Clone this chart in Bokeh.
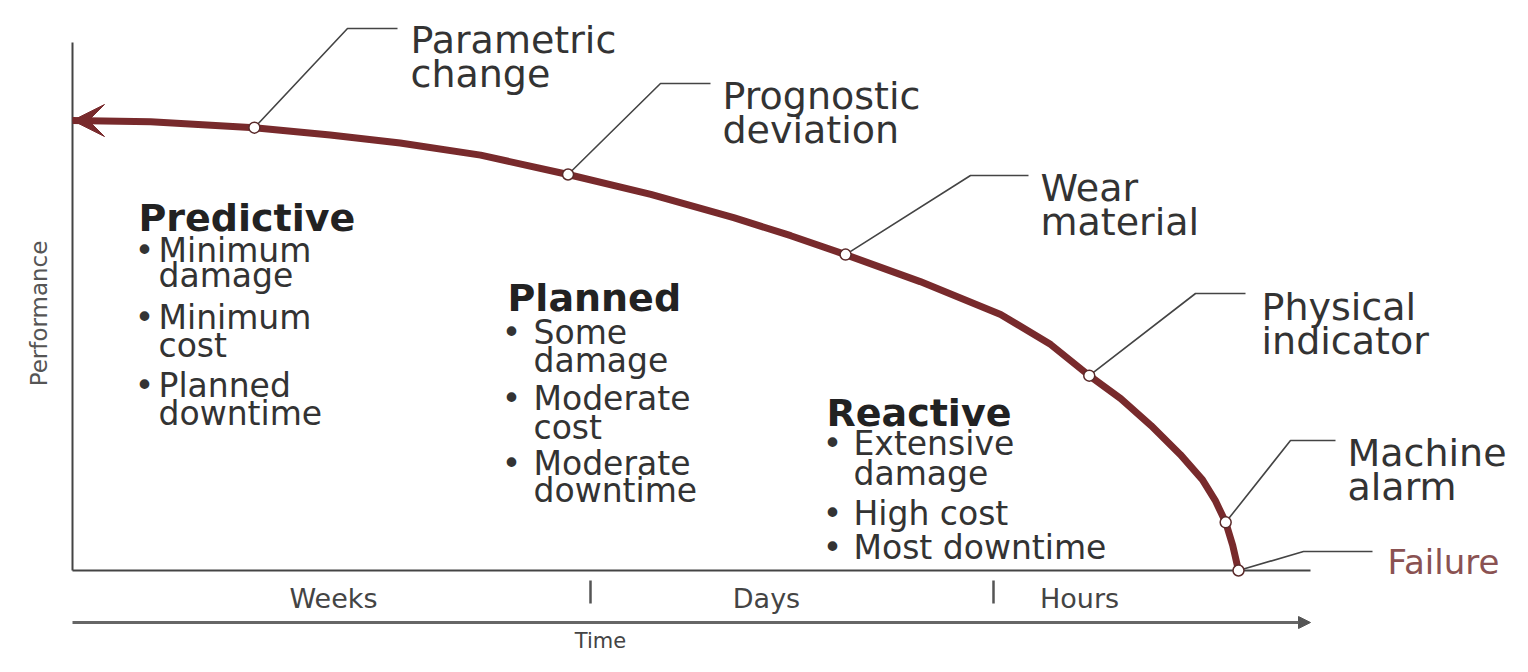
import math
from bokeh.plotting import figure
from bokeh.models import Range1d, Arrow, VeeHead, NormalHead
from bokeh.core.properties import value
from bokeh.embed import file_html
from bokeh.resources import INLINE

# ---------------- data ----------------
time_pts = [0, 6.7, 15.6, 22.1, 28.1, 35.0, 42.5, 49.6, 56.7, 61.6, 66.3, 72.7, 79.6,
            83.9, 87.2, 89.9, 92.5, 95.0, 96.9, 98.0, 98.9, 99.5, 100]
performance = [100, 99.7, 98.4, 96.8, 95.0, 92.3, 88.0, 83.6, 78.4, 74.4, 70.2, 64.2, 56.9,
               50.2, 43.3, 38.2, 32.2, 25.8, 20.2, 15.6, 10.7, 5.6, 0]

milestone_lines = [["Parametric", "change"], ["Prognostic", "deviation"], ["Wear", "material"],
                   ["Physical", "indicator"], ["Machine", "alarm"], ["Failure"]]
milestone_time = [15.6, 42.5, 66.3, 87.2, 98.9, 100]
milestone_perf = [98.4, 88.0, 70.2, 43.3, 10.7, 0]

time_labels = ["Weeks", "Days", "Hours"]
strategies = ["Predictive", "Planned", "Reactive"]
strategy_points = [
    [["Minimum", "damage"], ["Minimum", "cost"], ["Planned", "downtime"]],
    [["Some", "damage"], ["Moderate", "cost"], ["Moderate", "downtime"]],
    [["Extensive", "damage"], ["High cost"], ["Most downtime"]],
]

# ---------------- layout helpers (picture pixels -> data units) ----------------
X0, XS, Y0, YS = 72.0, 11.66, 570.0, 4.5
def dx(X):
    return (X - X0) / XS
def dy(Y):
    return (Y0 - Y) / YS

FONT = value("DejaVu Sans")
TXT = "#333333"
CURVE = "#782a2c"

p = figure(width=1512, height=656, x_range=Range1d(dx(0), dx(1512)), y_range=Range1d(dy(656), dy(0)),
           output_backend="svg", toolbar_location=None, min_border=0,
           x_axis_type=None, y_axis_type=None)
p.grid.visible = False
p.outline_line_color = None
p.background_fill_color = "white"
p.border_fill_color = "white"

def put(x, y, txt, size, color=TXT, bold=False, align="left", baseline="alphabetic", angle=0.0):
    p.text(x=[x], y=[y], text=[txt], text_font=FONT, text_font_size=f"{size}px",
           text_color=color, text_font_style="bold" if bold else "normal",
           text_align=align, text_baseline=baseline, angle=angle)

# axes lines
p.line([0, 0], [dy(42), 0], line_color="#444444", line_width=2)
p.line([0, dx(1310)], [0, 0], line_color="#444444", line_width=2)

# time arrow
p.add_layout(Arrow(end=NormalHead(size=12, fill_color="#555555", line_color="#555555"),
                   x_start=0, y_start=dy(622), x_end=dx(1310), y_end=dy(622),
                   line_width=3, line_color="#666666"))
put(dx(600), dy(640), "Time", 21, color="#444444", align="center")
put(dx(38), dy(313), "Performance", 23, color="#555555", align="center", baseline="middle", angle=math.pi / 2)

# time scale labels and separators
label_cx = [333, 766, 1079]
for lab, cx in zip(time_labels, label_cx):
    put(dx(cx), dy(598), lab, 27, color="#444444", align="center")
for sx in [590, 993]:
    p.line([dx(sx), dx(sx)], [dy(580), dy(603)], line_color="#555555", line_width=2.5)

# performance curve
p.line(time_pts, performance, line_color=CURVE, line_width=7, line_join="round")
p.add_layout(Arrow(end=VeeHead(size=32, fill_color=CURVE, line_color=CURVE),
                   x_start=time_pts[0] + 4, y_start=performance[0],
                   x_end=time_pts[0], y_end=performance[0], line_alpha=0))

# leaders: elbow and end (picture px)
elbows = [(347, 28, 397), (660, 83, 710), (970, 175, 1028), (1195, 293, 1245), (1290, 440, 1335), (1303, 551, 1372)]
xs, ys = [], []
for t, v, (ex, ey, endx) in zip(milestone_time, milestone_perf, elbows):
    xs.append([t, dx(ex), dx(endx)])
    ys.append([v, dy(ey), dy(ey)])
p.multi_line(xs, ys, line_color="#444444", line_width=1.6)

p.scatter(milestone_time, milestone_perf, size=11, fill_color="white", line_color="#5a2a2a", line_width=1.5)

# milestone labels
label_pos = [(410, 39), (722, 95), (1040, 187), (1261, 306), (1347, 452), (1387, 561)]
for lines, (lx, ly) in zip(milestone_lines, label_pos):
    for k, ln in enumerate(lines):
        is_fail = lines[0] == "Failure"
        put(dx(lx), dy(ly + 34 * k), ln, 34 if is_fail else 38, color="#8a5252" if is_fail else TXT)

# strategy blocks
head_pos = [(138, 217), (507, 297), (826, 412)]
bullet_x = [144, 511, 832]
text_x = [158, 533, 853]
bullet_base = [[[250, 275], [317, 345], [385, 413]],
               [[332, 360], [398, 427], [463, 490]],
               [[443, 473], [513], [547]]]
for s, name in enumerate(strategies):
    hx, hy = head_pos[s]
    put(dx(hx), dy(hy), name, 38, bold=True, color="#222222")
    for pt, bases in zip(strategy_points[s], bullet_base[s]):
        put(dx(bullet_x[s]), dy(bases[0]), "\u2022", 33, align="center")
        for ln, b in zip(pt, bases):
            put(dx(text_x[s]), dy(b), ln, 33)

open("out.html", "w").write(file_html(p, INLINE))
